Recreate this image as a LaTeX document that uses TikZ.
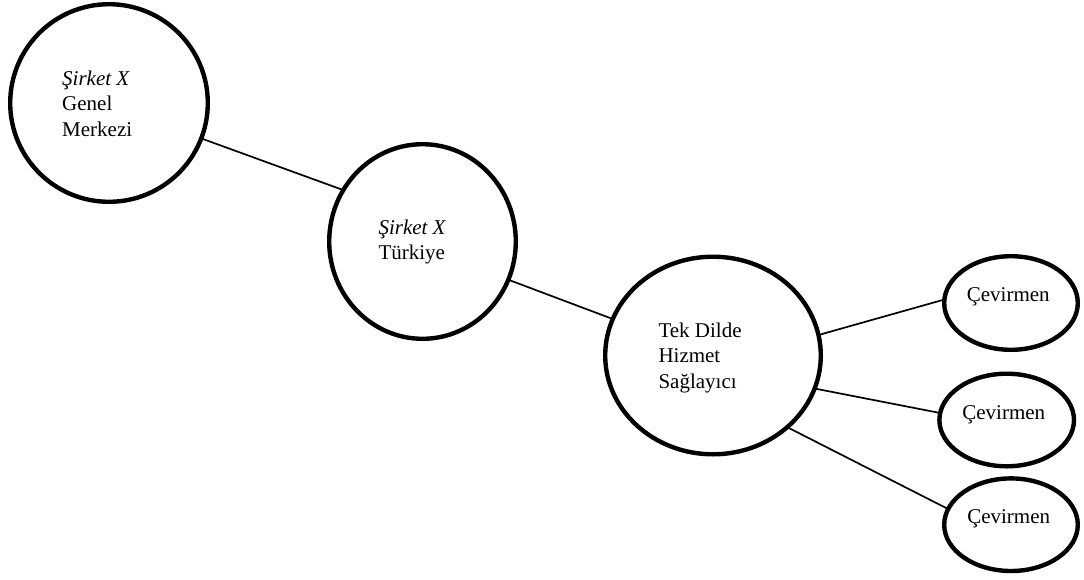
\documentclass[tikz,border=0pt]{standalone}
\usepackage{fontspec}
\setmainfont{Liberation Serif}
\usetikzlibrary{shapes.geometric}
\begin{document}
\begin{tikzpicture}[x=1pt,y=-1pt,
  unit/.style={draw, ellipse, line width=4.4pt, inner sep=0pt, outer sep=0pt},
  link/.style={draw, line width=1.7pt},
  blocktext/.style={inner sep=0pt, anchor=base west, align=left,
    font=\fontsize{21}{25.5}\selectfont},
  roletext/.style={inner sep=0pt, anchor=base,
    font=\fontsize{21}{25.5}\selectfont}]
\useasboundingbox (0,0) rectangle (1084,579);

% organisation units
\node[unit, minimum width=197.6pt, minimum height=197.6pt] (hq) at (109,103) {};
\node[unit, minimum width=186.6pt, minimum height=194.6pt] (tur) at (422.5,241.5) {};
\node[unit, minimum width=215.6pt, minimum height=197.6pt] (lsp) at (713,355.5) {};
\node[unit, minimum width=133.6pt, minimum height=93.6pt] (tr1) at (1011,303) {};
\node[unit, minimum width=134.6pt, minimum height=92.6pt] (tr2) at (1006.7,420) {};
\node[unit, minimum width=133.6pt, minimum height=92.6pt] (tr3) at (1011,524.7) {};

% labels (base anchor sits on the last line of a block)
\node[blocktext] (hqt) at (62,136) {\textit{Şirket X}\\Genel\\Merkezi};
\node[blocktext] (turt) at (378.3,259.5) {\textit{Şirket X}\\Türkiye};
\node[blocktext] (lspt) at (658.3,388) {Tek Dilde\\Hizmet\\Sağlayıcı};
\node[roletext] (tr1t) at (1008.3,301.7) {Çevirmen};
\node[roletext] (tr2t) at (1003.8,419.3) {Çevirmen};
\node[roletext] (tr3t) at (1008.7,523.3) {Çevirmen};

% connections
\draw[link] (hq.-21) -- (tur.147);
\draw[link] (tur.-24) -- (lsp.160);
\draw[link] (lsp.11) -- (tr1.177);
\draw[link] (lsp.-18) -- (tr2.174);
\draw[link] (lsp.-44) -- (tr3.166);
\end{tikzpicture}
\end{document}
